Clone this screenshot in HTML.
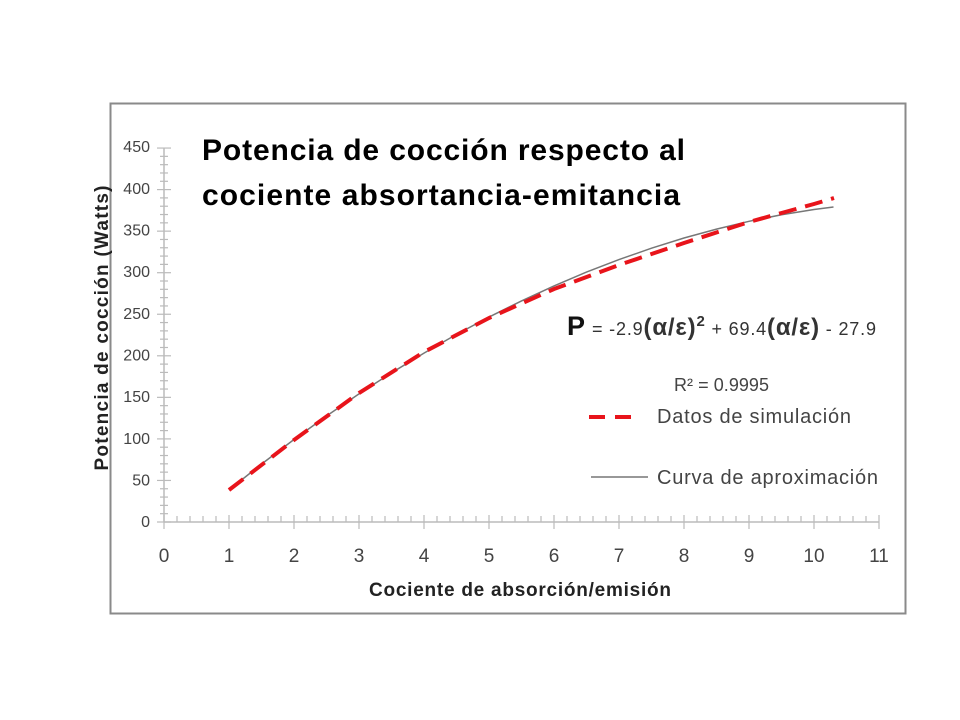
<!DOCTYPE html>
<html><head><meta charset="utf-8"><style>
body{margin:0;background:#fff;}
svg{display:block;}
text{font-family:"Liberation Sans",sans-serif;}
</style></head><body>
<svg width="960" height="720" viewBox="0 0 960 720" xmlns="http://www.w3.org/2000/svg">
<rect x="0" y="0" width="960" height="720" fill="#fff"/>
<rect x="110.5" y="103.5" width="795" height="510" fill="#fff" stroke="#8a8a8a" stroke-width="2"/>
<g stroke="#bbb" stroke-width="1.5">
<line x1="164" y1="148" x2="164" y2="522"/>
<line x1="164" y1="522" x2="879" y2="522"/>
</g>
<g id="yt" stroke="#bbb" stroke-width="1.2"></g>
<g id="xt" stroke="#bbb" stroke-width="1.2"></g>
<g font-size="16" fill="#444" text-anchor="end">
<text x="150" y="527">0</text><text x="150" y="485.5">50</text><text x="150" y="444">100</text>
<text x="150" y="402">150</text><text x="150" y="360.5">200</text><text x="150" y="319">250</text>
<text x="150" y="277">300</text><text x="150" y="235.5">350</text><text x="150" y="194">400</text>
<text x="150" y="152">450</text>
</g>
<g font-size="19" fill="#444" text-anchor="middle">
<text x="164" y="562">0</text><text x="229" y="562">1</text><text x="294" y="562">2</text>
<text x="359" y="562">3</text><text x="424" y="562">4</text><text x="489" y="562">5</text>
<text x="554" y="562">6</text><text x="619" y="562">7</text><text x="684" y="562">8</text>
<text x="749" y="562">9</text><text x="814" y="562">10</text><text x="879" y="562">11</text>
</g>
<text x="520" y="596" font-size="19" font-weight="bold" text-anchor="middle" fill="#222" textLength="302">Cociente de absorción/emisión</text>
<text transform="translate(108,328) rotate(-90)" font-size="19" font-weight="bold" text-anchor="middle" fill="#222" textLength="285">Potencia de cocción (Watts)</text>
<text x="202" y="160" font-size="30" font-weight="bold" fill="#000" textLength="483">Potencia de cocción respecto al</text>
<text x="202" y="205" font-size="30" font-weight="bold" fill="#000" textLength="478">cociente absortancia-emitancia</text>
<polyline fill="none" stroke="#777" stroke-width="1.5" points="229,489.9 261.5,464.1 294,439.5 326.5,416 359,393.9 391.5,372.8 424,353.1 456.5,334.4 489,317.1 521.5,300.9 554,285.9 586.5,272.1 619,259.6 651.5,248.2 684,238 716.5,229.1 749,221.3 781.5,214.8 814,209.5 833.5,207"/>
<polyline fill="none" stroke="#e8141b" stroke-width="4" stroke-dasharray="18,9" points="229,490 294,440 359,393 424,352 489,318 554,289 619,265 684,243 749,222 781.5,213 814,204 834,198"/>
<text x="567" y="335" font-size="27" font-weight="bold" fill="#111">P</text>
<text x="592" y="335" font-size="18" fill="#333" textLength="284">= -2.9<tspan font-size="24" font-weight="bold">(α/ε)</tspan><tspan font-size="15" font-weight="bold" dy="-9">2</tspan><tspan dy="9"> + 69.4</tspan><tspan font-size="24" font-weight="bold">(α/ε)</tspan> - 27.9</text>
<text x="674" y="391" font-size="18" fill="#444" textLength="95">R² = 0.9995</text>
<line x1="589" y1="417" x2="640" y2="417" stroke="#e8141b" stroke-width="4" stroke-dasharray="16,10"/>
<text x="657" y="423" font-size="20" fill="#444" textLength="194">Datos de simulación</text>
<line x1="591" y1="477" x2="648" y2="477" stroke="#777" stroke-width="1.5"/>
<text x="657" y="484" font-size="20" fill="#444" textLength="221">Curva de aproximación</text>
<script>
(function(){var ns="http://www.w3.org/2000/svg";
var yt=document.getElementById("yt"),xt=document.getElementById("xt");
for(var i=0;i<=45;i++){var y=522-0.831*i*10;var l=document.createElementNS(ns,"line");var big=i%5==0;
l.setAttribute("x1",big?157:160);l.setAttribute("x2",big?171:168);l.setAttribute("y1",y);l.setAttribute("y2",y);yt.appendChild(l);}
for(var j=0;j<=55;j++){var x=164+13*j;var l2=document.createElementNS(ns,"line");var b=j%5==0;
l2.setAttribute("x1",x);l2.setAttribute("x2",x);l2.setAttribute("y1",b?515:516);l2.setAttribute("y2",b?529:522);xt.appendChild(l2);}
})();
</script>
</svg>
</body></html>
